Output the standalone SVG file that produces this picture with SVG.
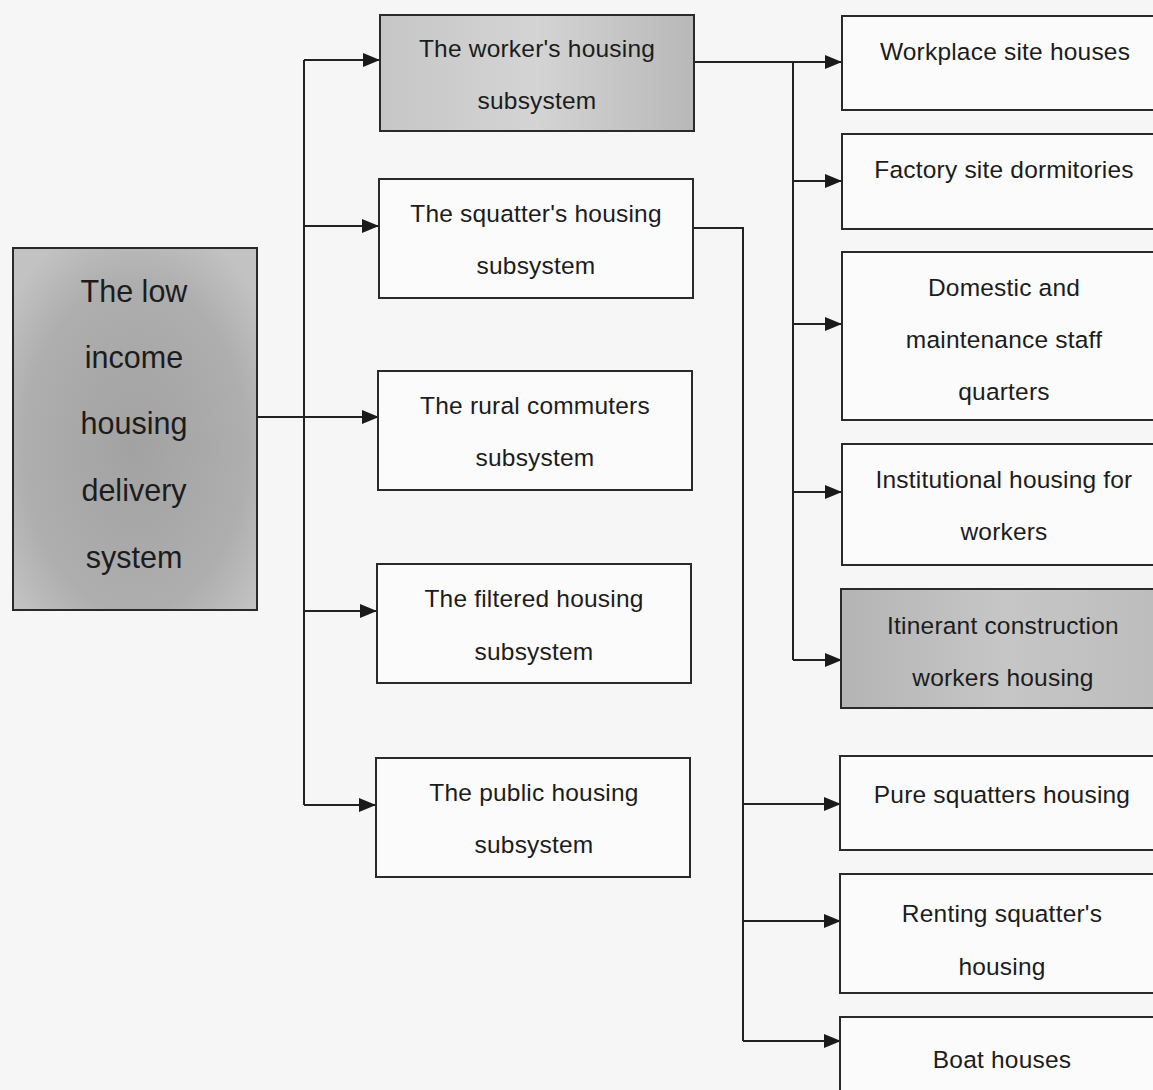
<svg xmlns="http://www.w3.org/2000/svg" width="1153" height="1090" viewBox="0 0 1153 1090">
<defs>
<style>
.box{fill:#fbfbfb;stroke:#2a2a2a;stroke-width:2}
.t{font-family:"Liberation Sans",Arial,sans-serif;font-size:24.5px;letter-spacing:0.2px;fill:#1c1c1c;text-anchor:middle}
.tb{font-family:"Liberation Sans",Arial,sans-serif;font-size:30.5px;fill:#1c1c1c;text-anchor:middle}
.c{fill:none;stroke:#222;stroke-width:2}
</style>
<marker id="ah" markerWidth="17" markerHeight="14" refX="16" refY="7" orient="auto" markerUnits="userSpaceOnUse">
<path d="M0,0 L17,7 L0,14 Z" fill="#1a1a1a"/>
</marker>
<radialGradient id="gL" cx="0.5" cy="0.55" r="0.65">
<stop offset="0" stop-color="#a2a2a2"/>
<stop offset="0.7" stop-color="#aeaeae"/>
<stop offset="1" stop-color="#c2c2c2"/>
</radialGradient>
<linearGradient id="gW" x1="0" y1="0" x2="1" y2="0">
<stop offset="0" stop-color="#c6c6c6"/>
<stop offset="0.5" stop-color="#d4d4d4"/>
<stop offset="1" stop-color="#b8b8b8"/>
</linearGradient>
<linearGradient id="gI" x1="0" y1="0" x2="1" y2="0">
<stop offset="0" stop-color="#b4b4b4"/>
<stop offset="0.5" stop-color="#c6c6c6"/>
<stop offset="1" stop-color="#bcbcbc"/>
</linearGradient>
</defs>
<rect width="1153" height="1090" fill="#f6f6f6"/>

<g id="connectors">
<path class="c" d="M257,417 H378" marker-end="url(#ah)"/>
<path class="c" d="M304,60 V805"/>
<path class="c" d="M304,60 H379" marker-end="url(#ah)"/>
<path class="c" d="M304,226 H378" marker-end="url(#ah)"/>
<path class="c" d="M304,611 H376" marker-end="url(#ah)"/>
<path class="c" d="M304,805 H375" marker-end="url(#ah)"/>
<path class="c" d="M694,62 H841" marker-end="url(#ah)"/>
<path class="c" d="M793,62 V660"/>
<path class="c" d="M793,181 H841" marker-end="url(#ah)"/>
<path class="c" d="M793,324 H841" marker-end="url(#ah)"/>
<path class="c" d="M793,492 H841" marker-end="url(#ah)"/>
<path class="c" d="M793,660 H841" marker-end="url(#ah)"/>
<path class="c" d="M693,228 H743 V1041"/>
<path class="c" d="M743,804 H840" marker-end="url(#ah)"/>
<path class="c" d="M743,921 H840" marker-end="url(#ah)"/>
<path class="c" d="M743,1041 H840" marker-end="url(#ah)"/>
</g>

<g id="n-root">
<rect x="13" y="248" width="244" height="362" fill="url(#gL)" stroke="#2a2a2a" stroke-width="2"/>
<text class="tb" x="134" y="302">The low</text>
<text class="tb" x="134" y="368">income</text>
<text class="tb" x="134" y="434">housing</text>
<text class="tb" x="134" y="501">delivery</text>
<text class="tb" x="134" y="568">system</text>
</g>

<g id="n-worker">
<rect x="380" y="15" width="314" height="116" fill="url(#gW)" stroke="#2a2a2a" stroke-width="2"/>
<text class="t" x="537" y="57">The worker's housing</text>
<text class="t" x="537" y="109">subsystem</text>
</g>
<g id="n-squatter">
<rect class="box" x="379" y="179" width="314" height="119"/>
<text class="t" x="536" y="222">The squatter's housing</text>
<text class="t" x="536" y="274">subsystem</text>
</g>
<g id="n-rural">
<rect class="box" x="378" y="371" width="314" height="119"/>
<text class="t" x="535" y="414">The rural commuters</text>
<text class="t" x="535" y="466">subsystem</text>
</g>
<g id="n-filtered">
<rect class="box" x="377" y="564" width="314" height="119"/>
<text class="t" x="534" y="607">The filtered housing</text>
<text class="t" x="534" y="660">subsystem</text>
</g>
<g id="n-public">
<rect class="box" x="376" y="758" width="314" height="119"/>
<text class="t" x="534" y="801">The public housing</text>
<text class="t" x="534" y="853">subsystem</text>
</g>

<g id="n-workplace">
<rect class="box" x="842" y="16" width="330" height="94"/>
<text class="t" x="1005" y="60">Workplace site houses</text>
</g>
<g id="n-factory">
<rect class="box" x="842" y="134" width="330" height="95"/>
<text class="t" x="1004" y="178">Factory site dormitories</text>
</g>
<g id="n-domestic">
<rect class="box" x="842" y="252" width="330" height="168"/>
<text class="t" x="1004" y="296">Domestic and</text>
<text class="t" x="1004" y="348">maintenance staff</text>
<text class="t" x="1004" y="400">quarters</text>
</g>
<g id="n-institutional">
<rect class="box" x="842" y="444" width="330" height="121"/>
<text class="t" x="1004" y="488">Institutional housing for</text>
<text class="t" x="1004" y="540">workers</text>
</g>
<g id="n-itinerant">
<rect x="841" y="589" width="330" height="119" fill="url(#gI)" stroke="#2a2a2a" stroke-width="2"/>
<text class="t" x="1003" y="634">Itinerant construction</text>
<text class="t" x="1003" y="686">workers housing</text>
</g>
<g id="n-pure">
<rect class="box" x="840" y="756" width="330" height="94"/>
<text class="t" x="1002" y="803">Pure squatters housing</text>
</g>
<g id="n-renting">
<rect class="box" x="840" y="874" width="330" height="119"/>
<text class="t" x="1002" y="922">Renting squatter's</text>
<text class="t" x="1002" y="975">housing</text>
</g>
<g id="n-boat">
<rect class="box" x="840" y="1017" width="330" height="100"/>
<text class="t" x="1002" y="1068">Boat houses</text>
</g>
</svg>
